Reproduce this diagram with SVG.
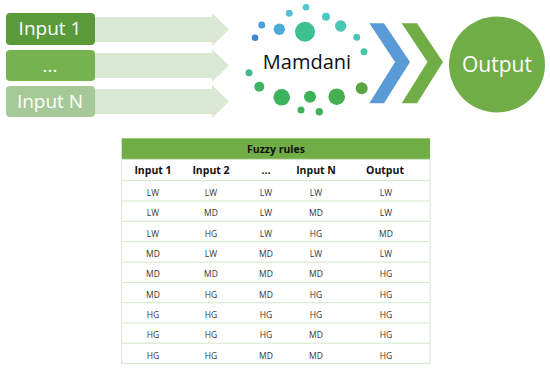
<svg xmlns="http://www.w3.org/2000/svg" width="550" height="369" viewBox="0 0 550 369">
<style>
.inp{font-family:"Open Sans","Liberation Sans",sans-serif;font-size:19px;fill:#fff;text-anchor:middle}
.arr{fill:#dae8d3}
.hd{font-family:"Open Sans","Liberation Sans",sans-serif;font-size:10.5px;font-weight:bold;fill:#111;text-anchor:middle}
.cell{font-family:"Open Sans","Liberation Sans",sans-serif;font-size:8.5px;fill:#333;text-anchor:middle}
.rl{stroke:#d3e6c8;stroke-width:1}
</style>
<rect width="550" height="369" fill="#fff"/>
<g id="connectors">
<polygon class="arr" points="95,17 212,17 212,13 229,29.5 212,46 212,42 95,42"/>
<polygon class="arr" points="95,53 212,53 212,49 229,65.5 212,82 212,78 95,78"/>
<polygon class="arr" points="95,89 212,89 212,85 229,101.5 212,118 212,114 95,114"/>
<polygon fill="#5b9bd5" points="369.3,23.3 384,23.3 410,62 384,103.3 369.3,103.3 395,62"/>
<polygon fill="#70ad47" points="401.7,23.3 417,23.3 443,62 417,103.3 401.7,103.3 427.5,62"/>
</g>
<g id="input1">
<rect x="6" y="13" width="89" height="32" rx="4" fill="#5b9a3b"/>
<text class="inp" x="50" y="35">Input 1</text>
</g>
<g id="inputdots">
<rect x="6" y="50" width="89" height="31" rx="4" fill="#76b24f"/>
<text class="inp" x="50" y="72">...</text>
</g>
<g id="inputN">
<rect x="6" y="86" width="89" height="31" rx="4" fill="#a6c99a"/>
<text class="inp" x="50" y="108">Input N</text>
</g>
<g id="mamdani">
<circle cx="306" cy="7.3" r="3.3" fill="#4fc6cc"/>
<circle cx="289.3" cy="13.3" r="3.5" fill="#56bfd2"/>
<circle cx="261.7" cy="25" r="3.5" fill="#4aa0d8"/>
<circle cx="255" cy="37.7" r="3.3" fill="#3f88d0"/>
<circle cx="279.3" cy="29.3" r="5.7" fill="#49acd9"/>
<circle cx="305" cy="31.7" r="10" fill="#3fc090"/>
<circle cx="326" cy="16.7" r="4" fill="#4ec8c2"/>
<circle cx="340.7" cy="26" r="5.7" fill="#4ac6b2"/>
<circle cx="356.7" cy="37.3" r="3.5" fill="#4ec7b8"/>
<circle cx="364" cy="51.7" r="3.5" fill="#48c6aa"/>
<circle cx="249" cy="72.7" r="3.5" fill="#42bb8a"/>
<circle cx="259.3" cy="86.7" r="5" fill="#3db364"/>
<circle cx="281.7" cy="97.3" r="8.3" fill="#3db45c"/>
<circle cx="301" cy="110" r="3.5" fill="#3fb35a"/>
<circle cx="310" cy="96.7" r="6" fill="#3eb258"/>
<circle cx="319.3" cy="111.7" r="3.7" fill="#42b156"/>
<circle cx="336.7" cy="96.7" r="8.3" fill="#45ae50"/>
<circle cx="361.7" cy="88.3" r="6" fill="#5ca742"/>
<text x="307" y="69" font-family="'Open Sans','Liberation Sans',sans-serif" font-size="20" fill="#111" text-anchor="middle">Mamdani</text>
</g>
<g id="output">
<circle cx="497" cy="64.5" r="48" fill="#70ad47"/>
<text x="497" y="72" font-family="'Open Sans','Liberation Sans',sans-serif" font-size="21" fill="#fff" text-anchor="middle">Output</text>
</g>
<g id="table">
<rect x="121.7" y="138.3" width="308.3" height="21" fill="#70ad47"/>
<text class="hd" x="276" y="153">Fuzzy rules</text>
<rect x="121.7" y="159.3" width="308.3" height="204" fill="none" stroke="#d3e6c8"/>
<g class="rl">
<line x1="121.7" y1="180.7" x2="430" y2="180.7"/>
<line x1="121.7" y1="201" x2="430" y2="201"/>
<line x1="121.7" y1="221.3" x2="430" y2="221.3"/>
<line x1="121.7" y1="241.7" x2="430" y2="241.7"/>
<line x1="121.7" y1="262.2" x2="430" y2="262.2"/>
<line x1="121.7" y1="282.4" x2="430" y2="282.4"/>
<line x1="121.7" y1="302.7" x2="430" y2="302.7"/>
<line x1="121.7" y1="323" x2="430" y2="323"/>
<line x1="121.7" y1="343.2" x2="430" y2="343.2"/>
</g>
<text class="hd" x="153" y="173.5">Input 1</text>
<text class="hd" x="211" y="173.5">Input 2</text>
<text class="hd" x="266" y="173.5">...</text>
<text class="hd" x="316" y="173.5">Input N</text>
<text class="hd" x="385" y="173.5">Output</text>
<g>
<text class="cell" x="153" y="196">LW</text><text class="cell" x="211" y="196">LW</text><text class="cell" x="266" y="196">LW</text><text class="cell" x="316" y="196">LW</text><text class="cell" x="386" y="196">LW</text>
<text class="cell" x="153" y="216.3">LW</text><text class="cell" x="211" y="216.3">MD</text><text class="cell" x="266" y="216.3">LW</text><text class="cell" x="316" y="216.3">MD</text><text class="cell" x="386" y="216.3">LW</text>
<text class="cell" x="153" y="236.6">LW</text><text class="cell" x="211" y="236.6">HG</text><text class="cell" x="266" y="236.6">LW</text><text class="cell" x="316" y="236.6">HG</text><text class="cell" x="386" y="236.6">MD</text>
<text class="cell" x="153" y="257">MD</text><text class="cell" x="211" y="257">LW</text><text class="cell" x="266" y="257">MD</text><text class="cell" x="316" y="257">LW</text><text class="cell" x="386" y="257">LW</text>
<text class="cell" x="153" y="277.3">MD</text><text class="cell" x="211" y="277.3">MD</text><text class="cell" x="266" y="277.3">MD</text><text class="cell" x="316" y="277.3">MD</text><text class="cell" x="386" y="277.3">HG</text>
<text class="cell" x="153" y="297.6">MD</text><text class="cell" x="211" y="297.6">HG</text><text class="cell" x="266" y="297.6">MD</text><text class="cell" x="316" y="297.6">HG</text><text class="cell" x="386" y="297.6">HG</text>
<text class="cell" x="153" y="317.9">HG</text><text class="cell" x="211" y="317.9">HG</text><text class="cell" x="266" y="317.9">HG</text><text class="cell" x="316" y="317.9">HG</text><text class="cell" x="386" y="317.9">HG</text>
<text class="cell" x="153" y="338.2">HG</text><text class="cell" x="211" y="338.2">HG</text><text class="cell" x="266" y="338.2">HG</text><text class="cell" x="316" y="338.2">MD</text><text class="cell" x="386" y="338.2">HG</text>
<text class="cell" x="153" y="358.5">HG</text><text class="cell" x="211" y="358.5">HG</text><text class="cell" x="266" y="358.5">MD</text><text class="cell" x="316" y="358.5">MD</text><text class="cell" x="386" y="358.5">HG</text>
</g>
</g>
</svg>
